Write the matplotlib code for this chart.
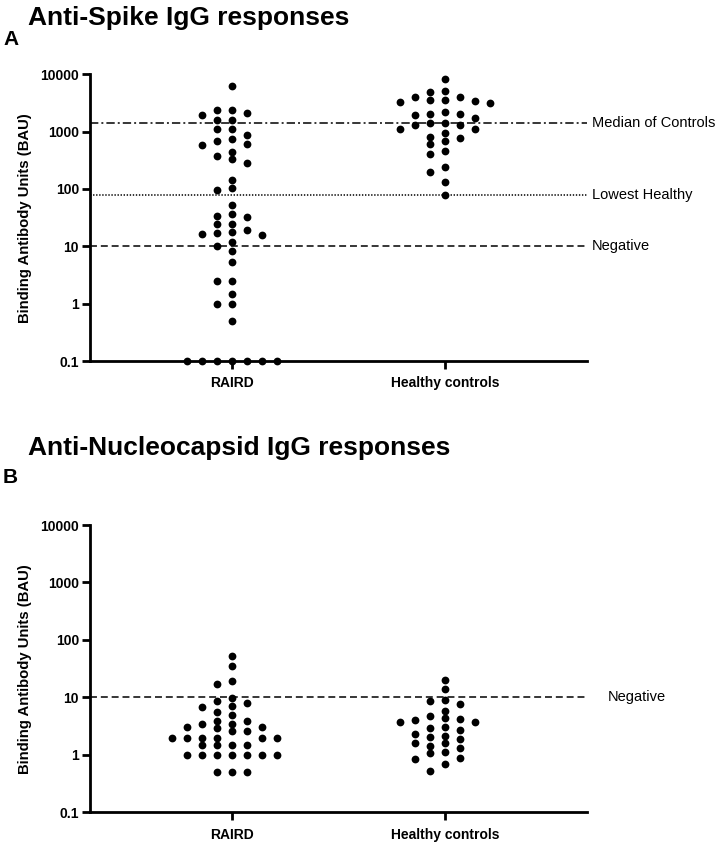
import numpy as np
import matplotlib
matplotlib.use('Agg')
import matplotlib.pyplot as plt
from matplotlib.transforms import blended_transform_factory

# ---------------- data ----------------
categories = ['RAIRD', 'Healthy controls']

spike_raird = [6250, 2430, 2360, 2100, 1930, 1580, 1580, 1100, 1100, 865, 740, 680,
               620, 580, 445, 377, 327, 285, 146, 104, 95, 53,
               36.4, 33.6, 32.7, 25, 24.4, 19.1, 17.5, 16.8, 16.1, 15.7, 12, 10.2,
               8.25, 5.4, 2.5, 2.5, 1.5, 1.0, 1.0, 0.5,
               0.1, 0.1, 0.1, 0.1, 0.1, 0.1, 0.1]
spike_healthy = [8180, 5120, 4920, 4030, 3970, 3620, 3520, 3390, 3290, 3160,
                 2200, 2010, 2010, 1980, 1730, 1420, 1420, 1290, 1290, 1130, 1090,
                 950, 810, 760, 680, 603, 461, 415, 237, 199, 130, 80]

nucleo_raird = [53.5, 35.8, 19.6, 17, 9.7, 8.8, 7.9, 7.1, 6.9, 5.5, 5.0, 3.9, 3.9,
                3.45, 3.45, 3.0, 3.0, 2.9, 2.55, 2.55, 2.0, 2.0, 2.0, 1.95, 1.95, 1.95,
                1.5, 1.5, 1.5, 1.5, 1.0, 1.0, 1.0, 1.0, 1.0, 1.0, 1.0, 0.5, 0.5, 0.5]
nucleo_healthy = [20.2, 13.9, 9.0, 8.5, 7.7, 5.9, 4.8, 4.34, 4.17, 4.05, 3.79, 3.79,
                  3.03, 2.91, 2.72, 2.31, 2.13, 2.03, 1.89, 1.59, 1.59, 1.43, 1.30,
                  1.11, 1.07, 0.87, 0.85, 0.69, 0.53]

negative_cutoff = 10
y_ticks = [0.1, 1, 10, 100, 1000, 10000]
y_tick_labels = ['0.1', '1', '10', '100', '1000', '10000']

# ---------------- style ----------------
plt.rcParams['font.family'] = ['Liberation Sans', 'DejaVu Sans']
plt.rcParams['lines.scale_dashes'] = False

W, H = 721, 843
fig = plt.figure(figsize=(W / 100, H / 100), dpi=100)


def make_axes(top_px, bottom_px):
    ax = fig.add_axes([90 / W, 1 - bottom_px / H, 497 / W, (bottom_px - top_px) / H])
    ax.set_yscale('log')
    ax.set_ylim(0.1, 10000)
    ax.set_xlim(-0.667, 1.667)
    for s in ['top', 'right']:
        ax.spines[s].set_visible(False)
    for s in ['left', 'bottom']:
        ax.spines[s].set_linewidth(2.0)
    ax.set_yticks(y_ticks)
    ax.set_yticklabels(y_tick_labels)
    ax.yaxis.set_minor_locator(matplotlib.ticker.NullLocator())
    ax.set_xticks(range(len(categories)))
    ax.set_xticklabels(categories)
    ax.tick_params(axis='both', length=6, width=2.0, labelsize=10, pad=2)
    ax.tick_params(axis='x', pad=5)
    for lab in ax.get_xticklabels() + ax.get_yticklabels():
        lab.set_fontweight('bold')
    return ax


def swarm_x(ax, xc, values, step_px=15.0, dot_px=7.0):
    vals = np.asarray(values, dtype=float)
    pts = ax.transData.transform(np.column_stack([np.full(len(vals), xc), vals]))
    ys = pts[:, 1]
    order = np.argsort(-vals, kind='stable')
    cands = [0.0]
    for k in range(1, 40):
        cands += [-k * step_px / 2, k * step_px / 2]
    placed = []
    xoff = np.zeros(len(vals))
    for i in order:
        for c in cands:
            ok = True
            for px, py in placed:
                if abs(ys[i] - py) < dot_px and abs(c - px) < step_px - 0.1:
                    ok = False
                    break
            if ok:
                xoff[i] = c
                placed.append((c, ys[i]))
                break
    data = ax.transData.inverted().transform(np.column_stack([pts[:, 0] + xoff, ys]))
    return data[:, 0]


def draw_points(ax, groups):
    for xc, vals in enumerate(groups):
        xs = swarm_x(ax, xc, vals)
        ax.plot(xs, vals, 'o', color='black', markersize=5.6, markeredgewidth=0,
                clip_on=False, zorder=5, linestyle='none')


def hline(ax, y, dashes, label, label_x=1.01):
    ax.axhline(y, color='black', linewidth=1.1, dashes=dashes, zorder=2)
    tr = blended_transform_factory(ax.transAxes, ax.transData)
    ax.text(label_x, y, label, transform=tr, fontsize=10.5, va='center', ha='left')


# ---------------- panel A ----------------
axA = make_axes(74.3, 361)
draw_points(axA, [spike_raird, spike_healthy])
median_controls = float(np.median(spike_healthy))
lowest_healthy = float(np.min(spike_healthy))
hline(axA, median_controls, (6, 2.2, 1.4, 2.2), 'Median of Controls')
hline(axA, lowest_healthy, (1.0, 1.2), 'Lowest Healthy')
hline(axA, negative_cutoff, (5, 2.8), 'Negative')

# ---------------- panel B ----------------
axB = make_axes(525, 812.3)
draw_points(axB, [nucleo_raird, nucleo_healthy])
hline(axB, negative_cutoff, (5, 2.8), 'Negative', label_x=1.042)

# ---------------- texts ----------------
fig.text(28 / W, 1 - 25 / H, 'Anti-Spike IgG responses', fontsize=19,
         fontweight='bold', va='baseline', ha='left')
fig.text(3 / W, 1 - 45 / H, 'A', fontsize=15, fontweight='bold', va='baseline', ha='left')
fig.text(28 / W, 1 - 455 / H, 'Anti-Nucleocapsid IgG responses', fontsize=19,
         fontweight='bold', va='baseline', ha='left')
fig.text(3 / W, 1 - 483 / H, 'B', fontsize=15, fontweight='bold', va='baseline', ha='left')

for yc in [(74.3 + 361) / 2, (525 + 812.3) / 2]:
    fig.text(25 / W, 1 - yc / H, 'Binding Antibody Units (BAU)', fontsize=10.7,
             fontweight='bold', rotation=90, ha='center', va='center')

fig.savefig('out.png', dpi=100)
